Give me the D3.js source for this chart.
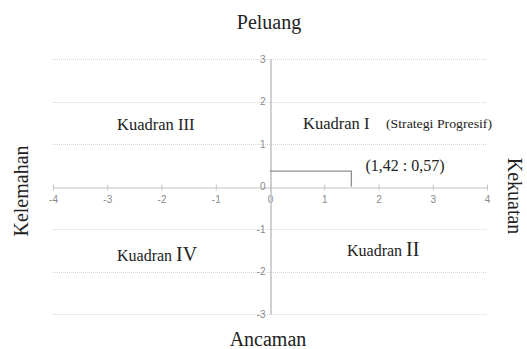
<!DOCTYPE html>
<html>
<head>
<meta charset="utf-8">
<script src="https://cdn.jsdelivr.net/npm/d3@7"></script>
<style>
  body { margin: 0; background: #fff; }
  svg { display: block; }
</style>
</head>
<body>
<div id="chart"></div>
<script>
// tick values on both axes
const xTicks = [-4, -3, -2, -1, 0, 1, 2, 3, 4]
const yTicks = [-3, -2, -1, 0, 1, 2, 3]

// position marker as drawn in the figure, and its label
const pointX = [1.5]
const pointY = [0.36]
const pointLabel = ['(1,42 : 0,57)']

// axis titles: top, bottom, left, right
const axisTitles = ['Peluang', 'Ancaman', 'Kelemahan', 'Kekuatan']

// quadrant names and numerals: I, II, III, IV
const quadrantWords = ['Kuadran', 'Kuadran', 'Kuadran', 'Kuadran']
const quadrantNumerals = ['I', 'II', 'III', 'IV']
const strategyNote = ['(Strategi Progresif)']

const width = 527
const height = 349
const serif = '"Liberation Serif", "Times New Roman", serif'
const tickFont = '"Liberation Sans", Arial, sans-serif'

const x = d3.scaleLinear()
  .domain([-4, 4])
  .range([53, 487])

const y = d3.scaleLinear()
  .domain([-3, 3])
  .range([314, 59])

const svg = d3.select('#chart').append('svg')
  .attr('width', width)
  .attr('height', height)

// dotted gridlines
svg.append('g')
  .selectAll('line')
  .data(yTicks.filter(d => d !== 0))
  .join('line')
  .attr('x1', x(-4))
  .attr('x2', x(4))
  .attr('y1', d => Math.round(y(d)) + 0.5)
  .attr('y2', d => Math.round(y(d)) + 0.5)
  .attr('stroke', '#d4d4d4')
  .attr('stroke-width', 1)
  .attr('stroke-dasharray', '1,1')

// horizontal axis
const xAxis = g => g
  .attr('transform', `translate(0,${Math.round(y(0)) + 0.5})`)
  .call(d3.axisBottom(x).tickValues(xTicks).tickFormat(d => String(d))
    .tickSize(3).tickPadding(5).tickSizeOuter(0))
  .call(g => g.select('.domain').attr('stroke', '#c4c4c4').attr('stroke-width', 1.2))
  .call(g => g.selectAll('.tick line').attr('y1', -3).attr('stroke', '#c4c4c4'))
  .call(g => g.selectAll('.tick text')
    .attr('fill', '#8a8a8a')
    .attr('font-family', tickFont)
    .attr('font-size', 10))

svg.append('g').call(xAxis)

// vertical axis
const yAxis = g => g
  .attr('transform', `translate(${Math.round(x(0)) + 0.5},0)`)
  .call(d3.axisLeft(y).tickValues(yTicks).tickFormat(d => String(d))
    .tickSize(0).tickPadding(5).tickSizeOuter(0))
  .call(g => g.select('.domain').attr('stroke', '#c4c4c4').attr('stroke-width', 1.6))
  .call(g => g.selectAll('.tick text')
    .attr('fill', '#8a8a8a')
    .attr('font-family', tickFont)
    .attr('font-size', 10))

svg.append('g').call(yAxis)

// marker lines to the point
svg.append('path')
  .datum([[0, pointY[0]], [pointX[0], pointY[0]], [pointX[0], 0]])
  .attr('fill', 'none')
  .attr('stroke', '#8e8e8e')
  .attr('stroke-width', 1.3)
  .attr('d', d3.line().x(d => x(d[0])).y(d => y(d[1])))

svg.append('text')
  .attr('x', x(pointX[0]) + 14)
  .attr('y', 171)
  .attr('font-family', serif)
  .attr('font-size', 16)
  .attr('fill', '#222')
  .text(pointLabel[0])

// axis titles
const titles = svg.append('g')
  .attr('font-family', serif)
  .attr('font-size', 20)
  .attr('fill', '#222')
  .attr('text-anchor', 'middle')

titles.append('text').attr('x', 269).attr('y', 29).text(axisTitles[0])
titles.append('text').attr('x', 268).attr('y', 346).text(axisTitles[1])
titles.append('text')
  .attr('transform', 'translate(28,191) rotate(-90)')
  .text(axisTitles[2])
titles.append('text')
  .attr('transform', 'translate(508,196) rotate(90)')
  .text(axisTitles[3])

// quadrant labels
const quad = svg.append('g')
  .attr('font-family', serif)
  .attr('fill', '#222')

const q1 = quad.append('text').attr('x', 303).attr('y', 129).attr('font-size', 16.5)
q1.append('tspan').text(quadrantWords[0] + ' ')
q1.append('tspan').text(quadrantNumerals[0])

quad.append('text')
  .attr('x', 386).attr('y', 128)
  .attr('font-size', 12)
  .attr('textLength', 106)
  .attr('lengthAdjust', 'spacingAndGlyphs')
  .text(strategyNote[0])

const q3 = quad.append('text').attr('x', 117).attr('y', 130).attr('font-size', 16.5)
q3.append('tspan').text(quadrantWords[2] + ' ')
q3.append('tspan').text(quadrantNumerals[2])

const q4 = quad.append('text').attr('x', 117).attr('y', 261).attr('font-size', 16)
q4.append('tspan').text(quadrantWords[3] + ' ')
q4.append('tspan').attr('font-size', 20).text(quadrantNumerals[3])

const q2 = quad.append('text').attr('x', 347).attr('y', 256).attr('font-size', 16)
q2.append('tspan').text(quadrantWords[1] + ' ')
q2.append('tspan').attr('font-size', 20).text(quadrantNumerals[1])
</script>
</body>
</html>
